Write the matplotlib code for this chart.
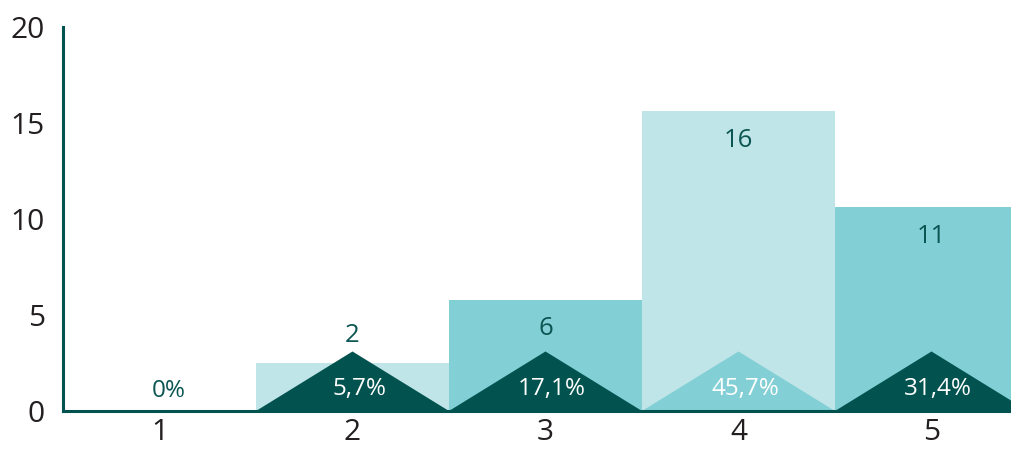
import matplotlib
matplotlib.use("Agg")
import matplotlib.pyplot as plt
from matplotlib.patches import Polygon

plt.rcParams['font.family'] = ['Open Sans', 'DejaVu Sans']

categories = [1, 2, 3, 4, 5]
bar_heights = [0, 2.5, 5.8, 15.6, 10.6]
count_labels = ["", "2", "6", "16", "11"]
pct_labels = ["0%", "5,7%", "17,1%", "45,7%", "31,4%"]
triangle_height = 3.1

LIGHT = "#c0e5e8"
MID = "#82cfd6"
DARK = "#02524f"
TEXT_DARK = "#0b5552"
TICK = "#231f20"

bar_colors = [LIGHT, LIGHT, MID, LIGHT, MID]
tri_colors = [None, DARK, DARK, MID, DARK]

W, H = 1011, 450
fig = plt.figure(figsize=(W / 100, H / 100), dpi=100)
ax = fig.add_axes([63 / W, (H - 411) / H, (W - 63) / W, (411 - 27) / H])

ax.bar(categories, bar_heights, width=1.0, color=bar_colors, linewidth=0, zorder=1)

for x, h, tc, pl in zip(categories, bar_heights, tri_colors, pct_labels):
    if tc is not None:
        tri = Polygon([(x - 0.5, 0), (x, triangle_height), (x + 0.5, 0)],
                      closed=True, facecolor=tc, edgecolor='none', zorder=2)
        ax.add_patch(tri)
        ax.text(x + 0.035, 1.15, pl, ha='center', va='center', color='white',
                fontsize=17.5, zorder=3)
    else:
        ax.text(x + 0.05, 1.05, pl, ha='center', va='center', color=TEXT_DARK,
                fontsize=17.5, zorder=3)

for x, h, lab in zip(categories, bar_heights, count_labels):
    if not lab:
        continue
    if h < 4:
        ax.annotate(lab, (x, h), xytext=(0, 20), textcoords='offset points',
                    ha='center', va='center', color=TEXT_DARK, fontsize=18.5, zorder=3)
    else:
        ax.annotate(lab, (x, h), xytext=(0, -21), textcoords='offset points',
                    ha='center', va='center', color=TEXT_DARK, fontsize=18.5, zorder=3)

ax.set_xlim(0.5, 0.5 + (W - 63) / 193.0)
ax.set_ylim(0, 20)
ax.set_xticks(categories)
ax.set_xticklabels([str(c) for c in categories])
ax.set_yticks([0, 5, 10, 15, 20])
ax.tick_params(axis='both', length=0, labelsize=21.5, colors=TICK)
ax.tick_params(axis='y', pad=13)
ax.tick_params(axis='x', pad=5)

for s in ['top', 'right']:
    ax.spines[s].set_visible(False)
for s in ['left', 'bottom']:
    ax.spines[s].set_color(DARK)
    ax.spines[s].set_linewidth(2.2)
    ax.spines[s].set_zorder(4)

fig.savefig("out.png", dpi=100)
